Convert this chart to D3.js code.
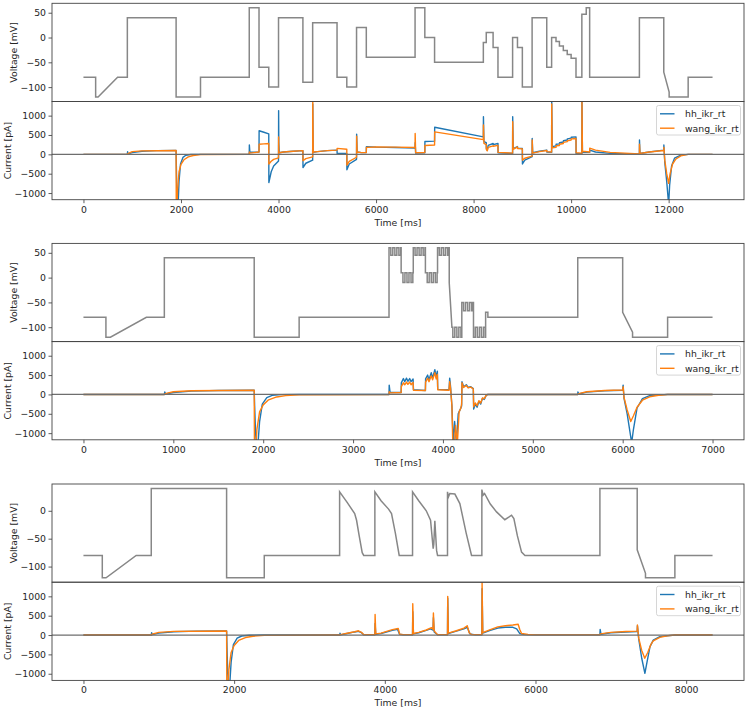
<!DOCTYPE html>
<html>
<head>
<meta charset="utf-8">
<script src="https://cdn.jsdelivr.net/npm/d3@7"></script>
<style>
body { margin: 0; background: #fff; }
svg text { font-family: 'DejaVu Sans', sans-serif; fill: #262626; }
</style>
</head>
<body>
<script>

// ---- Data : [time ms, value] ----

// Protocol 1
var proto1 = [[0,-80],[250,-80],[250,-120],[300,-120],[700,-80],[900,-80],[900,40],[1900,40],[1900,-120],[2400,-120],[2400,-80],[3400,-80],
	[3400,60],[3600,60],[3600,-60],[3800,-60],[3800,-100],[4000,-100],[4000,40],[4500,40],[4500,-90],[4700,-90],[4700,30],[5200,30],
	[5200,-80],[5400,-80],[5400,-100],[5600,-100],[5600,20],[5800,20],[5800,-40],[6800,-40],[6800,60],[7000,60],[7000,0],[7200,0],
	[7200,-50],[8200,-50],[8200,-10],[8260,-10],[8260,10],[8400,10],[8400,-20],[8500,-20],[8500,-80],[8800,-80],[8800,0],[8900,0],
	[8900,-20],[9000,-20],[9000,-100],[9200,-100],[9200,40],[9500,40],[9500,-60],[9600,-60],[9600,0],[9690,0],[9690,-8],[9760,-8],
	[9760,-17],[9840,-17],[9840,-26],[9920,-26],[9920,-34],[10000,-34],[10000,-42],[10100,-42],[10100,-80],[10220,-80],[10220,47],
	[10310,47],[10310,60],[10380,60],[10380,-80],[11400,-80],[11400,40],[11900,40],[11900,-70],[12010,-110],[12010,-120],[12400,-120],
	[12400,-80],[12900,-80]];

var hh1 = [[0,0],[900,0],[905,65],[915,10],[1000,45],[1200,80],[1500,95],[1900,100],[1905,-300],[1915,-1000],[1935,-1500],[1960,-700],
	[1990,-250],[2040,-80],[2100,-25],[2200,-5],[2400,0],[3400,0],[3402,240],[3412,60],[3500,55],[3600,60],[3602,610],[3700,570],
	[3800,530],[3802,-730],[3850,-450],[3900,-300],[4000,-170],[4002,1130],[4006,300],[4015,40],[4100,60],[4300,80],[4500,95],
	[4502,-340],[4560,-230],[4700,-150],[4702,1300],[4710,50],[4800,70],[5000,95],[5200,110],[5202,25],[5400,20],[5402,-400],
	[5450,-250],[5600,-130],[5602,520],[5612,60],[5700,45],[5800,45],[5802,200],[6000,185],[6400,175],[6800,160],[6802,300],
	[6812,30],[7000,40],[7002,330],[7200,340],[7202,700],[8200,450],[8202,970],[8212,330],[8260,300],[8262,150],[8280,110],
	[8300,230],[8400,280],[8402,250],[8500,280],[8502,40],[8800,20],[8802,970],[8812,150],[8900,200],[8902,160],[9000,150],
	[9002,-250],[9050,-150],[9200,-60],[9202,410],[9212,40],[9350,80],[9500,110],[9502,60],[9600,50],[9602,1450],[9612,200],
	[9690,220],[9692,260],[9760,270],[9762,300],[9840,320],[9842,350],[9920,370],[9922,400],[10000,420],[10002,440],[10100,450],
	[10102,20],[10220,15],[10222,1450],[10232,60],[10380,50],[10382,110],[10500,60],[10800,25],[11400,5],[11402,370],[11412,20],
	[11600,60],[11900,110],[11902,240],[11920,-200],[11960,-700],[12000,-1300],[12020,-800],[12060,-300],[12120,-100],[12250,-20],
	[12400,0],[12900,0]];

var wang1 = [[0,0],[900,0],[910,20],[1000,70],[1200,90],[1900,100],[1903,-1400],[1915,-1500],[1930,-900],[1960,-450],[2000,-260],
	[2060,-140],[2150,-65],[2250,-30],[2400,-5],[3400,0],[3402,60],[3412,30],[3600,60],[3602,260],[3700,270],[3800,280],[3802,-250],
	[3850,-180],[3900,-130],[4000,-90],[4002,450],[4006,100],[4015,40],[4100,60],[4300,80],[4500,95],[4502,-165],[4560,-110],
	[4700,-65],[4702,1450],[4712,60],[4800,70],[5000,95],[5200,110],[5202,155],[5400,130],[5402,-280],[5450,-180],[5600,-75],
	[5602,470],[5612,60],[5700,45],[5800,45],[5802,180],[6000,190],[6400,185],[6800,175],[6802,540],[6812,40],[7000,45],[7002,230],
	[7200,240],[7202,580],[8200,380],[8202,760],[8212,280],[8260,250],[8262,120],[8280,90],[8300,180],[8400,220],[8402,210],
	[8500,230],[8502,50],[8800,30],[8802,840],[8812,130],[8900,190],[8902,150],[9000,140],[9002,-150],[9050,-100],[9200,-45],
	[9202,370],[9212,30],[9350,70],[9500,100],[9502,70],[9600,60],[9602,1300],[9612,170],[9690,180],[9692,220],[9760,230],
	[9762,260],[9840,280],[9842,310],[9920,330],[9922,350],[10000,370],[10002,400],[10100,410],[10102,40],[10220,30],[10222,1450],
	[10232,80],[10380,60],[10382,160],[10500,110],[10800,50],[11400,10],[11402,260],[11412,20],[11600,60],[11900,100],[11902,180],
	[11920,-150],[11960,-500],[12000,-750],[12030,-500],[12080,-250],[12150,-120],[12250,-40],[12400,0],[12900,0]];

// Protocol 2 (staircase with fast oscillations)
var proto2 = [[0,-80],[250,-80],[250,-120],[300,-120],[700,-80],[900,-80],[900,40],[1900,40],[1900,-120],[2400,-120],[2400,-80],[3400,-80],
	[3400,60],[3420,60],[3420,45],[3442,45],[3442,60],[3465,60],[3465,45],[3487,45],[3487,60],[3510,60],[3510,45],[3530,45],[3530,60],[3535,60],
	[3535,10],[3555,10],[3555,-10],[3577,-10],[3577,10],[3600,10],[3600,-10],[3622,-10],[3622,10],[3645,10],[3645,-10],[3665,-10],[3665,10],[3670,10],
	[3670,60],[3690,60],[3690,45],[3712,45],[3712,60],[3735,60],[3735,45],[3757,45],[3757,60],[3780,60],[3780,45],[3800,45],[3800,60],[3805,60],
	[3805,10],[3825,10],[3825,-10],[3847,-10],[3847,10],[3870,10],[3870,-10],[3892,-10],[3892,10],[3915,10],[3915,-10],[3935,-10],[3935,10],[3940,10],
	[3940,60],[3960,60],[3960,45],[3982,45],[3982,60],[4005,60],[4005,45],[4027,45],[4027,60],[4050,60],[4050,45],[4065,45],[4065,60],[4070,60],
	[4070,-10],[4100,-100],[4110,-100],[4110,-120],[4132,-120],[4132,-100],[4155,-100],[4155,-120],[4177,-120],[4177,-100],[4200,-100],[4200,-120],[4210,-120],
	[4210,-50],[4230,-50],[4230,-67],[4252,-67],[4252,-50],[4275,-50],[4275,-67],[4297,-67],[4297,-50],[4320,-50],[4320,-67],[4335,-67],[4335,-50],[4340,-50],
	[4340,-120],[4360,-120],[4360,-100],[4382,-100],[4382,-120],[4405,-120],[4405,-100],[4427,-100],[4427,-120],[4450,-120],[4450,-100],[4470,-100],[4470,-120],[4475,-120],
	[4475,-70],[4500,-70],[4500,-80],[5500,-80],[5500,40],[6000,40],[6000,-70],[6110,-110],[6110,-120],[6500,-120],[6500,-80],[7000,-80]];

var hh2 = [[0,0],[900,0],[905,65],[915,10],[1000,50],[1200,85],[1500,100],[1900,110],[1905,-300],[1915,-1000],[1935,-1500],[1960,-700],
	[1990,-250],[2040,-80],[2100,-25],[2200,-5],[2400,0],[3400,0],[3402,240],[3412,50],[3535,50],[3537,300],[3560,410],[3575,330],
	[3595,420],[3610,340],[3630,410],[3645,330],[3668,400],[3672,120],[3805,100],[3807,400],[3830,500],[3845,380],[3870,560],
	[3885,420],[3910,640],[3925,450],[3938,600],[3942,130],[4068,120],[4075,420],[4085,200],[4100,-300],[4115,-1300],[4130,-700],
	[4150,-1250],[4170,-500],[4190,-400],[4208,-300],[4212,330],[4230,200],[4260,250],[4280,180],[4310,200],[4338,150],[4342,-380],
	[4360,-250],[4380,-330],[4400,-180],[4420,-250],[4440,-100],[4460,-130],[4480,-30],[4500,0],[5500,0],[5502,65],[5512,10],
	[5600,60],[5800,95],[6000,110],[6005,240],[6015,-100],[6050,-500],[6100,-1250],[6120,-900],[6160,-350],[6220,-110],[6300,-30],
	[6500,0],[7000,0]];

var wang2 = [[0,0],[900,0],[910,20],[1000,70],[1200,95],[1900,110],[1903,-1400],[1915,-1500],[1930,-900],[1960,-450],[2000,-270],
	[2060,-140],[2150,-65],[2250,-30],[2400,-8],[3400,0],[3402,70],[3412,40],[3535,50],[3537,200],[3560,300],[3575,250],[3595,320],
	[3610,260],[3630,320],[3645,250],[3668,310],[3672,110],[3805,100],[3807,320],[3830,420],[3845,330],[3870,480],[3885,380],
	[3910,560],[3925,400],[3938,520],[3942,120],[4068,110],[4075,330],[4085,150],[4100,-300],[4110,-1300],[4125,-1400],[4140,-800],
	[4160,-1300],[4180,-450],[4200,-350],[4208,-250],[4212,300],[4230,180],[4260,230],[4280,170],[4310,190],[4338,140],[4342,-320],
	[4360,-220],[4380,-290],[4400,-160],[4420,-220],[4440,-90],[4460,-110],[4480,-25],[4500,0],[5500,0],[5510,20],[5600,70],
	[5800,100],[6000,115],[6005,200],[6015,-80],[6050,-400],[6090,-700],[6120,-550],[6160,-330],[6220,-150],[6300,-60],[6400,-20],
	[6500,0],[7000,0]];

// Protocol 3 (action potential like)
var proto3 = [[0,-80],[250,-80],[250,-120],[300,-120],[700,-80],[900,-80],[900,40],[1900,40],[1900,-120],[2400,-120],[2400,-80],[3400,-80],
	[3400,34],[3500,15],[3600,-5],[3625,-17],[3660,-45],[3700,-75],[3720,-80],[3868,-80],[3868,34],[3950,18],[4050,3],[4089,-5],
	[4140,-40],[4191,-80],[4368,-80],[4368,34],[4450,18],[4550,0],[4607,-17],[4642,-68],[4650,-60],[4664,-18],[4687,-71],[4700,-80],
	[4832,-80],[4832,34],[4845,25],[4863,31],[4930,30],[4996,13],[5080,-40],[5151,-80],[5288,-80],[5288,38],[5305,28],[5324,31],
	[5400,12],[5483,-2],[5593,-16],[5650,-11],[5682,-8],[5713,-14],[5760,-45],[5815,-74],[5860,-80],[6855,-80],[6855,40],[7350,40],
	[7350,-70],[7460,-112],[7460,-120],[7850,-120],[7850,-80],[8350,-80]];

var hh3 = [[0,0],[900,0],[905,60],[915,10],[1000,50],[1200,85],[1500,100],[1900,105],[1905,-300],[1915,-1000],[1935,-1500],[1960,-700],
	[1990,-250],[2040,-80],[2100,-25],[2200,-5],[2400,0],[3400,0],[3405,45],[3415,5],[3500,40],[3600,80],[3650,95],[3690,60],
	[3720,5],[3868,5],[3871,300],[3880,20],[3950,40],[4100,120],[4170,145],[4195,20],[4250,5],[4368,5],[4371,600],[4380,30],
	[4450,60],[4550,120],[4607,160],[4640,130],[4645,450],[4655,80],[4680,40],[4700,5],[4832,5],[4835,950],[4843,40],[4950,100],
	[5050,160],[5094,200],[5130,30],[5200,5],[5288,5],[5291,1200],[5300,50],[5400,120],[5500,180],[5600,200],[5700,200],[5750,160],
	[5790,40],[5850,10],[6000,5],[6855,5],[6858,145],[6870,20],[7000,60],[7200,80],[7350,90],[7353,240],[7370,-100],[7410,-600],
	[7452,-990],[7480,-700],[7520,-300],[7563,-130],[7650,-40],[7850,0],[8350,0]];

var wang3 = [[0,0],[900,0],[910,20],[1000,70],[1200,95],[1900,105],[1903,-1400],[1915,-1500],[1930,-900],[1960,-450],[2000,-270],
	[2060,-140],[2150,-65],[2250,-30],[2400,-8],[3400,0],[3410,10],[3500,45],[3600,85],[3650,110],[3690,70],[3720,10],[3868,10],
	[3871,530],[3880,30],[3950,50],[4100,140],[4178,170],[4198,20],[4250,10],[4368,10],[4371,810],[4380,40],[4450,70],[4550,130],
	[4620,190],[4640,150],[4645,570],[4655,110],[4680,50],[4700,10],[4832,10],[4835,1000],[4843,50],[4950,110],[5050,180],[5094,240],
	[5120,60],[5150,15],[5288,10],[5291,1400],[5300,60],[5400,140],[5500,210],[5600,240],[5700,260],[5770,280],[5790,150],
	[5815,40],[5900,15],[6000,5],[6855,5],[6860,30],[7000,70],[7200,90],[7350,100],[7353,260],[7370,-80],[7410,-400],[7450,-600],
	[7490,-450],[7530,-250],[7563,-150],[7650,-60],[7750,-20],[7850,0],[8350,0]];

// Ticks
var xTicks1 = [0, 2000, 4000, 6000, 8000, 10000, 12000];
var xTicks2 = [0, 1000, 2000, 3000, 4000, 5000, 6000, 7000];
var xTicks3 = [0, 2000, 4000, 6000, 8000];
var vTicks = [-100, -50, 0, 50];
var iTicks = [-1000, -500, 0, 500, 1000];
var seriesNames = ['hh_ikr_rt', 'wang_ikr_rt'];

// ---- Layout ----
var W = 748, H = 711;
var plotLeft = 52, plotRight = 744, panelH = 98.2;
var fontSize = 9.3;
var blue = '#1f77b4', orange = '#ff7f0e', grey = '#878787';
var iDomain = [-1172, 1365];

var groups = [
	{ proto: proto1, hh: hh1, wang: wang1, xTicks: xTicks1, vDomain: [-129, 69], top: 3.3 },
	{ proto: proto2, hh: hh2, wang: wang2, xTicks: xTicks2, vDomain: [-129, 69], top: 243.4 },
	{ proto: proto3, hh: hh3, wang: wang3, xTicks: xTicks3, vDomain: [-128, 48], top: 484 }
];

var minus = function(d) { return String(d).replace('-', '\u2212'); };

var svg = d3.select('body').append('svg').attr('width', W).attr('height', H);

groups.forEach(function(g, gi) {

	var tEnd = g.proto[g.proto.length - 1][0];
	var x = d3.scaleLinear().domain([-0.05 * tEnd, 1.05 * tEnd]).range([plotLeft, plotRight]);

	var vTop = g.top, iTop = g.top + panelH, bottom = g.top + 2 * panelH;
	var yV = d3.scaleLinear().domain(g.vDomain).range([iTop, vTop]);
	var yI = d3.scaleLinear().domain(iDomain).range([bottom, iTop]);

	// clip paths
	var defs = svg.append('defs');
	defs.append('clipPath').attr('id', 'clipV' + gi).append('rect')
		.attr('x', plotLeft).attr('y', vTop).attr('width', plotRight - plotLeft).attr('height', panelH);
	defs.append('clipPath').attr('id', 'clipI' + gi).append('rect')
		.attr('x', plotLeft).attr('y', iTop).attr('width', plotRight - plotLeft).attr('height', panelH);

	// 1. Voltage panel
	var vLine = d3.line().x(function(d) { return x(d[0]); }).y(function(d) { return yV(d[1]); });
	svg.append('path').datum(g.proto)
		.attr('clip-path', 'url(#clipV' + gi + ')')
		.attr('fill', 'none').attr('stroke', grey).attr('stroke-width', 1.5)
		.attr('d', vLine);

	// 2. Current panel
	var iLine = d3.line().x(function(d) { return x(d[0]); }).y(function(d) { return yI(d[1]); });
	var gI = svg.append('g').attr('clip-path', 'url(#clipI' + gi + ')');
	gI.append('path').datum(g.hh)
		.attr('fill', 'none').attr('stroke', blue).attr('stroke-width', 1.4)
		.attr('stroke-linejoin', 'round').attr('d', iLine);
	gI.append('path').datum(g.wang)
		.attr('fill', 'none').attr('stroke', orange).attr('stroke-width', 1.4)
		.attr('stroke-linejoin', 'round').attr('d', iLine);
	gI.append('line')
		.attr('x1', plotLeft).attr('x2', plotRight).attr('y1', yI(0)).attr('y2', yI(0))
		.attr('stroke', '#6e6e6e').attr('stroke-width', 1.2);

	// 3. Axes
	var axV = svg.append('g').attr('transform', 'translate(' + plotLeft + ',0)')
		.call(d3.axisLeft(yV).tickValues(vTicks.filter(function(t) { return t >= g.vDomain[0] && t <= g.vDomain[1]; }))
			.tickSize(3.5).tickPadding(2.5).tickFormat(minus));
	var axI = svg.append('g').attr('transform', 'translate(' + plotLeft + ',0)')
		.call(d3.axisLeft(yI).tickValues(iTicks).tickSize(3.5).tickPadding(2.5).tickFormat(minus));
	var axX = svg.append('g').attr('transform', 'translate(0,' + bottom + ')')
		.call(d3.axisBottom(x).tickValues(g.xTicks).tickSize(3.5).tickPadding(3).tickFormat(minus));

	[axV, axI, axX].forEach(function(a) {
		a.select('.domain').remove();
		a.selectAll('.tick line').attr('stroke', '#333').attr('stroke-width', 0.8);
		a.selectAll('.tick text').style('font-size', fontSize + 'px').attr('fill', '#262626');
	});

	// frames
	[vTop, iTop].forEach(function(t) {
		svg.append('rect').attr('x', plotLeft).attr('y', t)
			.attr('width', plotRight - plotLeft).attr('height', panelH)
			.attr('fill', 'none').attr('stroke', '#444').attr('stroke-width', 0.9);
	});

	// labels
	svg.append('text').attr('transform', 'translate(13,' + (vTop + panelH / 2) + ') rotate(-90)')
		.attr('text-anchor', 'middle').attr('dominant-baseline', 'central')
		.style('font-size', fontSize + 'px').text('Voltage [mV]');
	svg.append('text').attr('transform', 'translate(7.5,' + (iTop + panelH / 2) + ') rotate(-90)')
		.attr('text-anchor', 'middle').attr('dominant-baseline', 'central')
		.style('font-size', fontSize + 'px').text('Current [pA]');
	svg.append('text').attr('x', (plotLeft + plotRight) / 2).attr('y', bottom + 22.5)
		.attr('text-anchor', 'middle').attr('dominant-baseline', 'central')
		.style('font-size', fontSize + 'px').text('Time [ms]');

	// 4. Legend
	var lg = svg.append('g').attr('transform', 'translate(656.5,' + (iTop + 4) + ')');
	lg.append('rect').attr('width', 84).attr('height', 29.5).attr('rx', 2)
		.attr('fill', '#fff').attr('fill-opacity', 0.8).attr('stroke', '#ccc').attr('stroke-width', 0.8);
	[blue, orange].forEach(function(c, i) {
		var yy = 8.3 + i * 14.4;
		lg.append('line').attr('x1', 3.5).attr('x2', 18).attr('y1', yy).attr('y2', yy)
			.attr('stroke', c).attr('stroke-width', 1.4);
		lg.append('text').attr('x', 28.5).attr('y', yy).attr('dominant-baseline', 'central')
			.style('font-size', fontSize + 'px').text(seriesNames[i]);
	});
});

</script>
</body>
</html>
